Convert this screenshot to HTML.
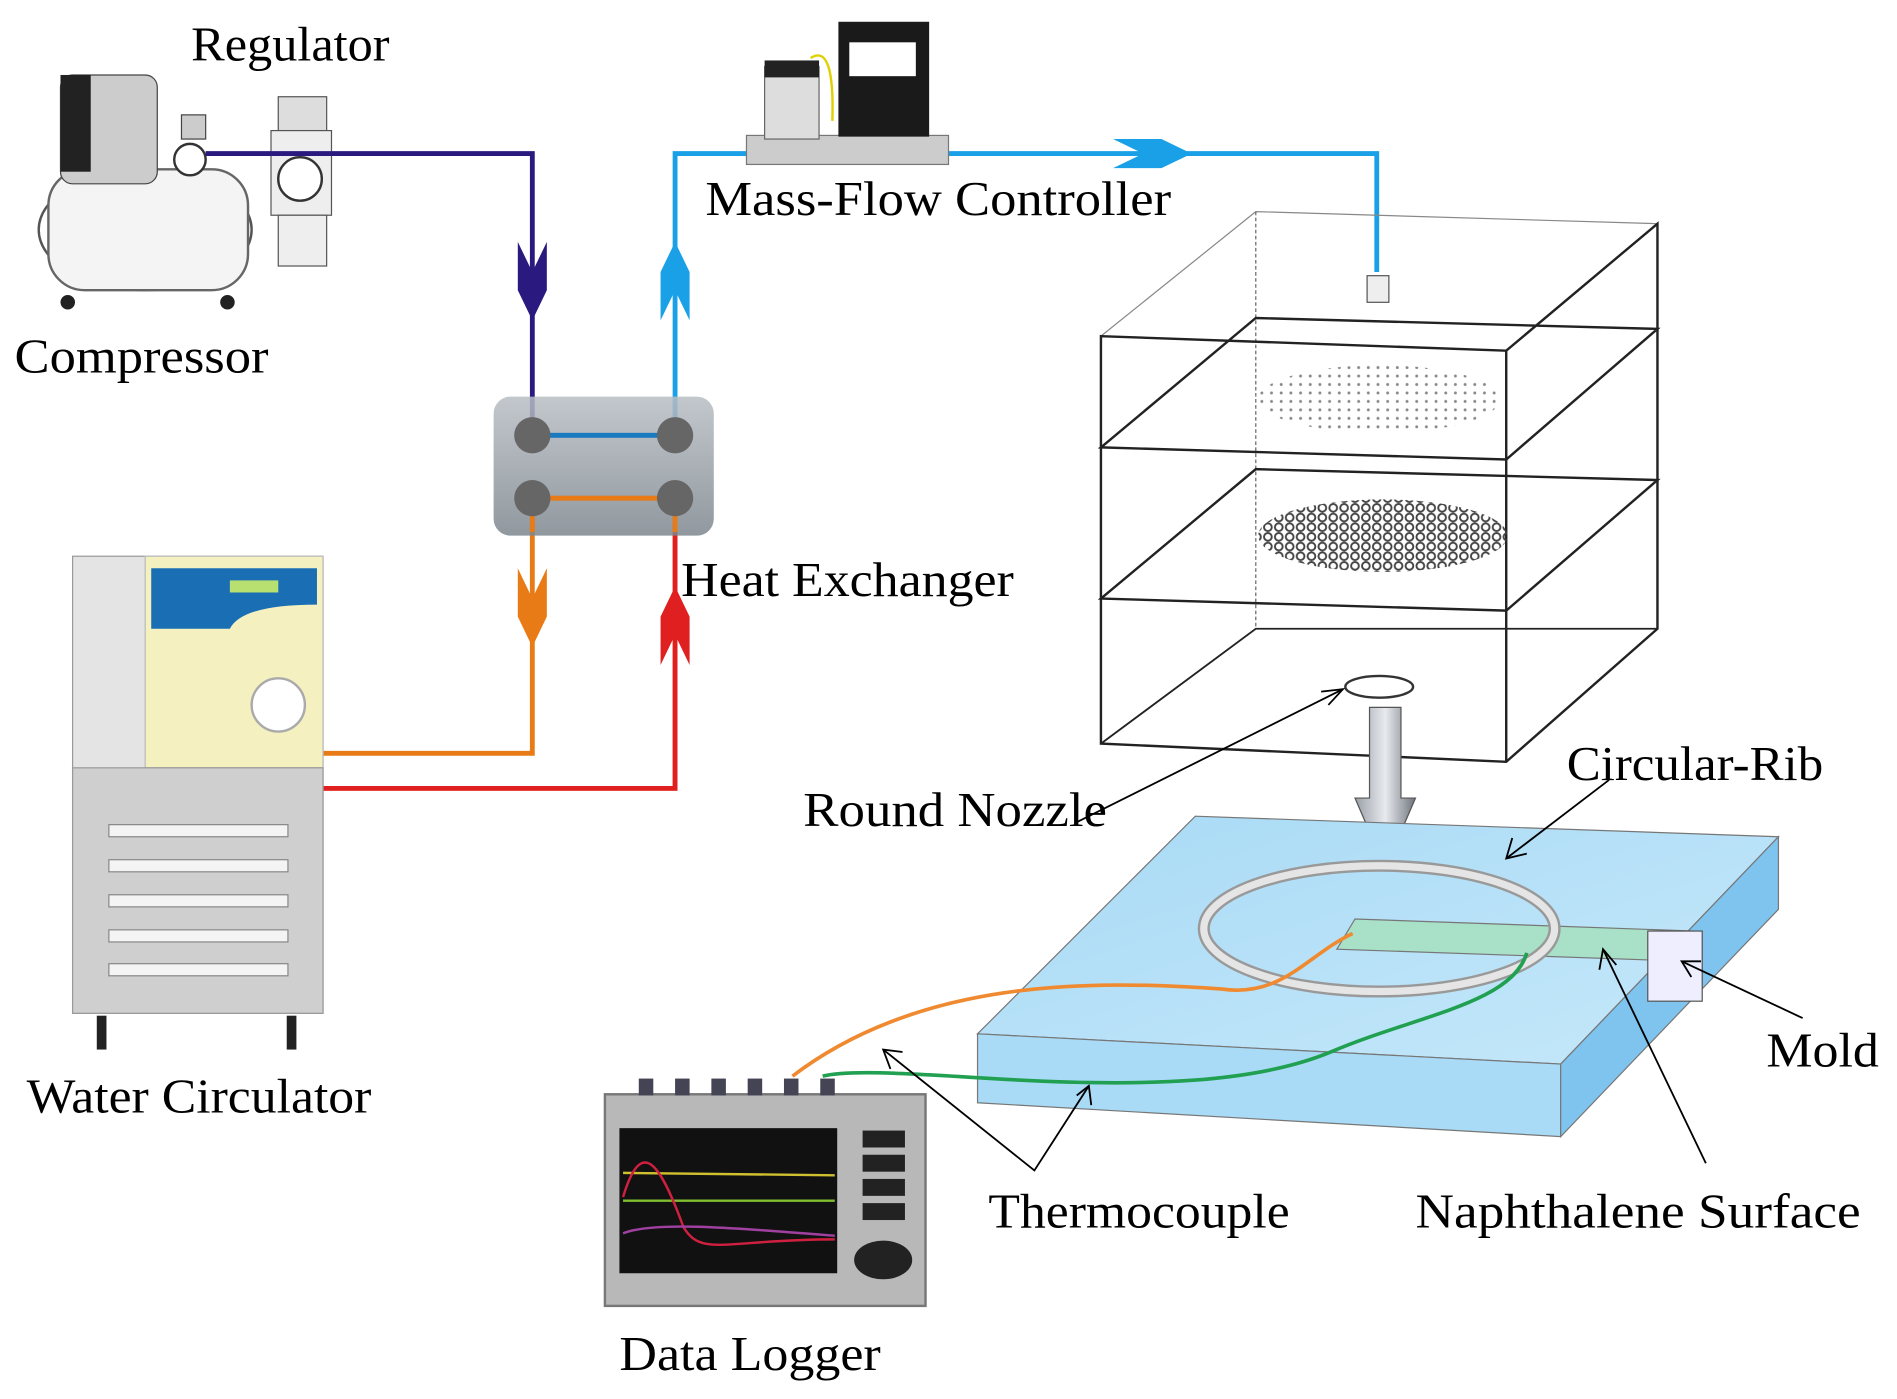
<!DOCTYPE html>
<html><head><meta charset="utf-8"><style>
html,body{margin:0;padding:0;background:#fff}
svg{display:block}
text{font-family:"Liberation Serif",serif;fill:#000}
</style></head><body>
<svg width="1897" height="1399" viewBox="0 0 1568 1157" preserveAspectRatio="none" xmlns="http://www.w3.org/2000/svg">
<defs>
<linearGradient id="hx" x1="0" y1="0" x2="0" y2="1"><stop offset="0" stop-color="#b8bec4"/><stop offset="1" stop-color="#7d868e"/></linearGradient>
<linearGradient id="plate" x1="0" y1="0" x2="1" y2="1"><stop offset="0" stop-color="#a8daf5"/><stop offset="1" stop-color="#c6e8fa"/></linearGradient>
<linearGradient id="arr" x1="0" y1="0" x2="1" y2="0"><stop offset="0" stop-color="#9aa0a8"/><stop offset=".5" stop-color="#e8eaee"/><stop offset="1" stop-color="#6f757d"/></linearGradient>
<pattern id="dots" width="8" height="7" patternUnits="userSpaceOnUse"><circle cx="3" cy="3" r="1.2" fill="#888"/></pattern>
<pattern id="mesh" width="9" height="8" patternUnits="userSpaceOnUse"><circle cx="4" cy="4" r="3.2" fill="none" stroke="#444" stroke-width="1.6"/></pattern>
</defs>

<ellipse cx="120" cy="190" rx="88" ry="50" fill="#fff" stroke="#555" stroke-width="2"/>
<rect x="40" y="140" width="165" height="100" rx="30" fill="#f4f4f4" stroke="#666" stroke-width="2"/>
<rect x="50" y="62" width="80" height="90" rx="10" fill="#ccc" stroke="#444"/>
<rect x="50" y="62" width="25" height="80" fill="#222"/>
<rect x="150" y="95" width="20" height="20" fill="#ccc" stroke="#444"/>
<circle cx="157" cy="132" r="13" fill="#fff" stroke="#333" stroke-width="2"/>
<circle cx="56" cy="250" r="6" fill="#222"/><circle cx="188" cy="250" r="6" fill="#222"/>
<rect x="230" y="80" width="40" height="30" fill="#ddd" stroke="#555"/>
<rect x="224" y="108" width="50" height="70" fill="#eee" stroke="#555"/>
<circle cx="248" cy="148" r="18" fill="#fff" stroke="#333" stroke-width="2"/>
<rect x="230" y="178" width="40" height="42" fill="#eee" stroke="#555"/>

<polyline points="170,127 440,127 440,360 558,360" fill="none" stroke="#2a1a80" stroke-width="4"/>
<polyline points="558,360 558,127 1138,127 1138,225" fill="none" stroke="#1aa0e6" stroke-width="4"/>
<polyline points="267,623 440,623 440,412 558,412 558,652 267,652" fill="none" stroke="#e97b17" stroke-width="4"/>
<polyline points="558,412 558,652 267,652" fill="none" stroke="#e02020" stroke-width="4"/>
<path d="M428,200 L440,225 L452,200 L452,240 L440,265 L428,240Z" fill="#2a1a80"/>
<path d="M546,265 L558,240 L570,265 L570,225 L558,200 L546,225Z" fill="#1aa0e6"/>
<path d="M428,470 L440,495 L452,470 L452,510 L440,535 L428,510Z" fill="#e97b17"/>
<path d="M546,550 L558,525 L570,550 L570,510 L558,485 L546,510Z" fill="#e02020"/>
<path d="M920,115 L945,127 L920,139 L960,139 L985,127 L960,115Z" fill="#1aa0e6"/>

<rect x="408" y="328" width="182" height="115" rx="14" fill="url(#hx)" opacity=".85"/>
<line x1="440" y1="360" x2="558" y2="360" stroke="#1a7ac0" stroke-width="4"/>
<polyline points="440,440 440,412 558,412 558,440" fill="none" stroke="#e97b17" stroke-width="4"/>
<circle cx="440" cy="360" r="15" fill="#666"/><circle cx="558" cy="360" r="15" fill="#666"/>
<circle cx="440" cy="412" r="15" fill="#666"/><circle cx="558" cy="412" r="15" fill="#666"/>

<rect x="617" y="112" width="167" height="24" fill="#ccc" stroke="#777"/>
<rect x="632" y="55" width="45" height="60" fill="#ddd" stroke="#666"/>
<rect x="632" y="50" width="45" height="14" fill="#222"/>
<rect x="693" y="18" width="75" height="95" fill="#1a1a1a"/>
<rect x="702" y="35" width="55" height="28" fill="#fff"/>
<path d="M670,48 Q690,35 688,100" stroke="#e0d000" stroke-width="2" fill="none"/>

<g fill="none" stroke="#222" stroke-width="2">
<path d="M1038,175 L1370,185 M1038,175 L910,278 M1370,185 L1245,290" stroke="#888" stroke-width="1"/>
<line x1="1038" y1="175" x2="1038" y2="520" stroke="#666" stroke-width="1" stroke-dasharray="3,2"/>
<path d="M910,278 L1245,290 L1370,185 L1370,520 L1245,630 L910,615 Z"/>
<line x1="1245" y1="290" x2="1245" y2="630"/>
<path d="M910,370 L1038,263 L1370,272 L1245,380 Z"/>
<path d="M910,495 L1038,388 L1370,397 L1245,505 Z"/>
<path d="M910,615 L1038,520 L1370,520" stroke-width="1.5"/>
</g>
<ellipse cx="1140" cy="330" rx="100" ry="28" fill="url(#dots)"/>
<ellipse cx="1143" cy="443" rx="103" ry="30" fill="url(#mesh)"/>
<rect x="1130" y="228" width="18" height="22" fill="#eee" stroke="#555"/>
<ellipse cx="1140" cy="568" rx="28" ry="9" fill="#fff" stroke="#333" stroke-width="2"/>
<path d="M1132,585 L1158,585 L1158,660 L1170,660 L1145,718 L1120,660 L1132,660Z" fill="url(#arr)" stroke="#555"/>

<path d="M808,855 L988,675 L1470,692 L1290,880 Z" fill="url(#plate)" stroke="#777"/>
<path d="M808,855 L1290,880 L1290,940 L808,912 Z" fill="#a9dbf6" stroke="#777"/>
<path d="M1290,880 L1470,692 L1470,752 L1290,940 Z" fill="#7ec4ee" stroke="#777"/>
<path d="M1120,760 L1400,770 L1395,795 L1105,785 Z" fill="#a8e0c8" stroke="#777"/>
<rect x="1362" y="770" width="45" height="58" fill="#eef" stroke="#555"/>
<ellipse cx="1140" cy="768" rx="145" ry="52" fill="none" stroke="#999" stroke-width="10"/>
<ellipse cx="1140" cy="768" rx="145" ry="52" fill="none" stroke="#e5e5e5" stroke-width="6"/>
<path d="M1118,772 C1080,790 1060,825 1010,818 C900,810 760,810 655,890" stroke="#f08a30" stroke-width="3" fill="none"/>
<path d="M1262,788 C1250,830 1170,840 1100,870 C1040,895 950,900 820,892 C740,887 700,885 680,890" stroke="#20a050" stroke-width="3" fill="none"/>

<rect x="60" y="460" width="207" height="378" fill="#e4e4e4" stroke="#999"/>
<rect x="120" y="460" width="147" height="175" fill="#f4f0c0" stroke="#bbb"/>
<path d="M125,470 L262,470 L262,500 Q200,500 190,520 L125,520Z" fill="#1a6fb4"/>
<rect x="190" y="480" width="40" height="10" fill="#b8e070"/>
<circle cx="230" cy="583" r="22" fill="#fff" stroke="#aaa" stroke-width="2"/>
<rect x="60" y="635" width="207" height="203" fill="#cfcfcf" stroke="#999"/>
<g fill="#f4f4f4" stroke="#888"><rect x="90" y="682" width="148" height="10"/><rect x="90" y="711" width="148" height="10"/><rect x="90" y="740" width="148" height="10"/><rect x="90" y="769" width="148" height="10"/><rect x="90" y="797" width="148" height="10"/></g>
<rect x="80" y="840" width="8" height="28" fill="#222"/><rect x="237" y="840" width="8" height="28" fill="#222"/>

<rect x="500" y="905" width="265" height="175" fill="#b8b8b8" stroke="#777" stroke-width="2"/>
<g fill="#445"><rect x="528" y="892" width="12" height="14"/><rect x="558" y="892" width="12" height="14"/><rect x="588" y="892" width="12" height="14"/><rect x="618" y="892" width="12" height="14"/><rect x="648" y="892" width="12" height="14"/><rect x="678" y="892" width="12" height="14"/></g>
<rect x="512" y="933" width="180" height="120" fill="#111"/>
<path d="M515,970 L690,972" stroke="#d0c030" stroke-width="2"/>
<path d="M515,993 L690,993" stroke="#80c030" stroke-width="2"/>
<path d="M515,990 C530,940 545,960 565,1015 C580,1040 600,1025 690,1025" stroke="#d02040" stroke-width="2" fill="none"/>
<path d="M515,1020 C540,1010 600,1015 690,1022" stroke="#a040a0" stroke-width="2" fill="none"/>
<g fill="#222"><rect x="713" y="935" width="35" height="14"/><rect x="713" y="955" width="35" height="14"/><rect x="713" y="975" width="35" height="14"/><rect x="713" y="995" width="35" height="14"/></g>
<ellipse cx="730" cy="1042" rx="24" ry="16" fill="#222"/>

<g stroke="#000" stroke-width="1.5" fill="none">
<line x1="890" y1="680" x2="1110" y2="570"/><path d="M1092,572 L1110,570 L1098,583"/>
<line x1="1330" y1="645" x2="1245" y2="710"/><path d="M1250,693 L1245,710 L1262,706"/>
<line x1="1490" y1="842" x2="1390" y2="795"/><path d="M1398,808 L1390,795 L1406,795"/>
<line x1="1410" y1="962" x2="1325" y2="785"/><path d="M1322,802 L1325,785 L1336,798"/>
<polyline points="730,868 855,968 900,898"/><path d="M746,870 L730,868 L736,884"/><path d="M890,906 L900,898 L902,914"/>
</g>

<g font-size="40" lengthAdjust="spacingAndGlyphs">
<text x="158" y="50" textLength="164" lengthAdjust="spacingAndGlyphs">Regulator</text>
<text x="12" y="308" textLength="210" lengthAdjust="spacingAndGlyphs">Compressor</text>
<text x="583" y="178" textLength="385" lengthAdjust="spacingAndGlyphs">Mass-Flow  Controller</text>
<text x="563" y="493" textLength="275" lengthAdjust="spacingAndGlyphs">Heat Exchanger</text>
<text x="22" y="920" textLength="285" lengthAdjust="spacingAndGlyphs">Water Circulator</text>
<text x="664" y="683" textLength="251" lengthAdjust="spacingAndGlyphs">Round  Nozzle</text>
<text x="1295" y="645" textLength="212" lengthAdjust="spacingAndGlyphs">Circular-Rib</text>
<text x="1460" y="882" textLength="93" lengthAdjust="spacingAndGlyphs">Mold</text>
<text x="817" y="1015" textLength="249" lengthAdjust="spacingAndGlyphs">Thermocouple</text>
<text x="1170" y="1015" textLength="368" lengthAdjust="spacingAndGlyphs">Naphthalene  Surface</text>
<text x="512" y="1133" textLength="216" lengthAdjust="spacingAndGlyphs">Data Logger</text>
</g>
</svg>
</body></html>
